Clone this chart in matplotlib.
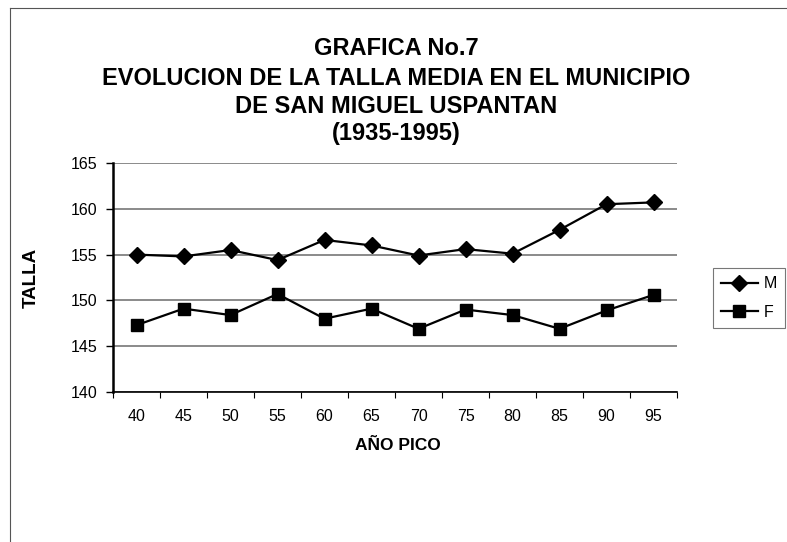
import matplotlib
matplotlib.use("Agg")
import matplotlib.pyplot as plt
from matplotlib.lines import Line2D

categories = ["40", "45", "50", "55", "60", "65", "70", "75", "80", "85", "90", "95"]
m_values = [155.0, 154.8, 155.5, 154.4, 156.6, 156.0, 154.9, 155.6, 155.1, 157.7, 160.5, 160.7]
f_values = [147.3, 149.1, 148.4, 150.7, 148.0, 149.1, 146.9, 149.0, 148.4, 146.9, 148.9, 150.6]
y_ticks = [140, 145, 150, 155, 160, 165]
title_lines = ["GRAFICA No.7",
               "EVOLUCION DE LA TALLA MEDIA EN EL MUNICIPIO",
               "DE SAN MIGUEL USPANTAN",
               "(1935-1995)"]

plt.rcParams['font.family'] = ['Liberation Sans', 'DejaVu Sans']

W, H = 787, 542
fig = plt.figure(figsize=(W / 100, H / 100), dpi=100)
fig.patch.set_facecolor("white")

ax = fig.add_axes([113 / W, 1 - 392 / H, 564 / W, (392 - 163) / H])
x = list(range(len(categories)))
ax.plot(x, m_values, color="black", lw=1.6, marker="D", ms=8.5,
        markerfacecolor="black", markeredgecolor="black", label="M", zorder=3)
ax.plot(x, f_values, color="black", lw=1.6, marker="s", ms=8,
        markerfacecolor="black", markeredgecolor="black", label="F", zorder=3)

ax.set_xlim(-0.5, len(categories) - 0.5)
ax.set_ylim(140, 165)
ax.set_yticks(y_ticks)
ax.set_yticklabels([str(v) for v in y_ticks], fontsize=11.5)
ax.set_xticks(x)
ax.set_xticklabels(categories, fontsize=11.5)
ax.tick_params(axis="x", length=0, pad=12)
ax.tick_params(axis="y", length=5, width=1, direction="out", pad=6)
ax.set_xticks([i - 0.5 for i in range(len(categories) + 1)], minor=True)
ax.tick_params(axis="x", which="minor", length=4, width=0.8, direction="out")
ax.grid(axis="y", color="#777777", lw=1.2)
ax.set_axisbelow(True)
for s in ["top", "right"]:
    ax.spines[s].set_visible(False)
ax.spines["left"].set_linewidth(1.8)
ax.spines["bottom"].set_linewidth(1.2)

baselines = [55, 85, 113, 140]
for t, yy in zip(title_lines, baselines):
    fig.text(396 / W, 1 - yy / H, t, ha="center", va="baseline",
             fontsize=17, fontweight="bold")

fig.text(31 / W, 1 - 278 / H, "TALLA", rotation=90, ha="center", va="center",
         fontsize=13.5, fontweight="bold")
fig.text(398 / W, 1 - 446 / H, "AÑO PICO", ha="center", va="center",
         fontsize=12.5, fontweight="bold")

leg = ax.legend(loc="center left", bbox_to_anchor=(713 / W, 1 - 298 / H),
                bbox_transform=fig.transFigure, frameon=True, fancybox=False,
                fontsize=11.5, handlelength=2.3, borderpad=0.5, labelspacing=0.85,
                handletextpad=0.35, borderaxespad=0)
leg.get_frame().set_edgecolor("#555555")
leg.get_frame().set_linewidth(0.8)

# outer border lines (left and top)
fig.add_artist(Line2D([10 / W, 10 / W], [0, 1 - 8 / H], transform=fig.transFigure,
                      color="#555555", lw=0.8))
fig.add_artist(Line2D([10 / W, 1], [1 - 8 / H, 1 - 8 / H], transform=fig.transFigure,
                      color="#555555", lw=0.8))

fig.savefig("out.png", dpi=100)
